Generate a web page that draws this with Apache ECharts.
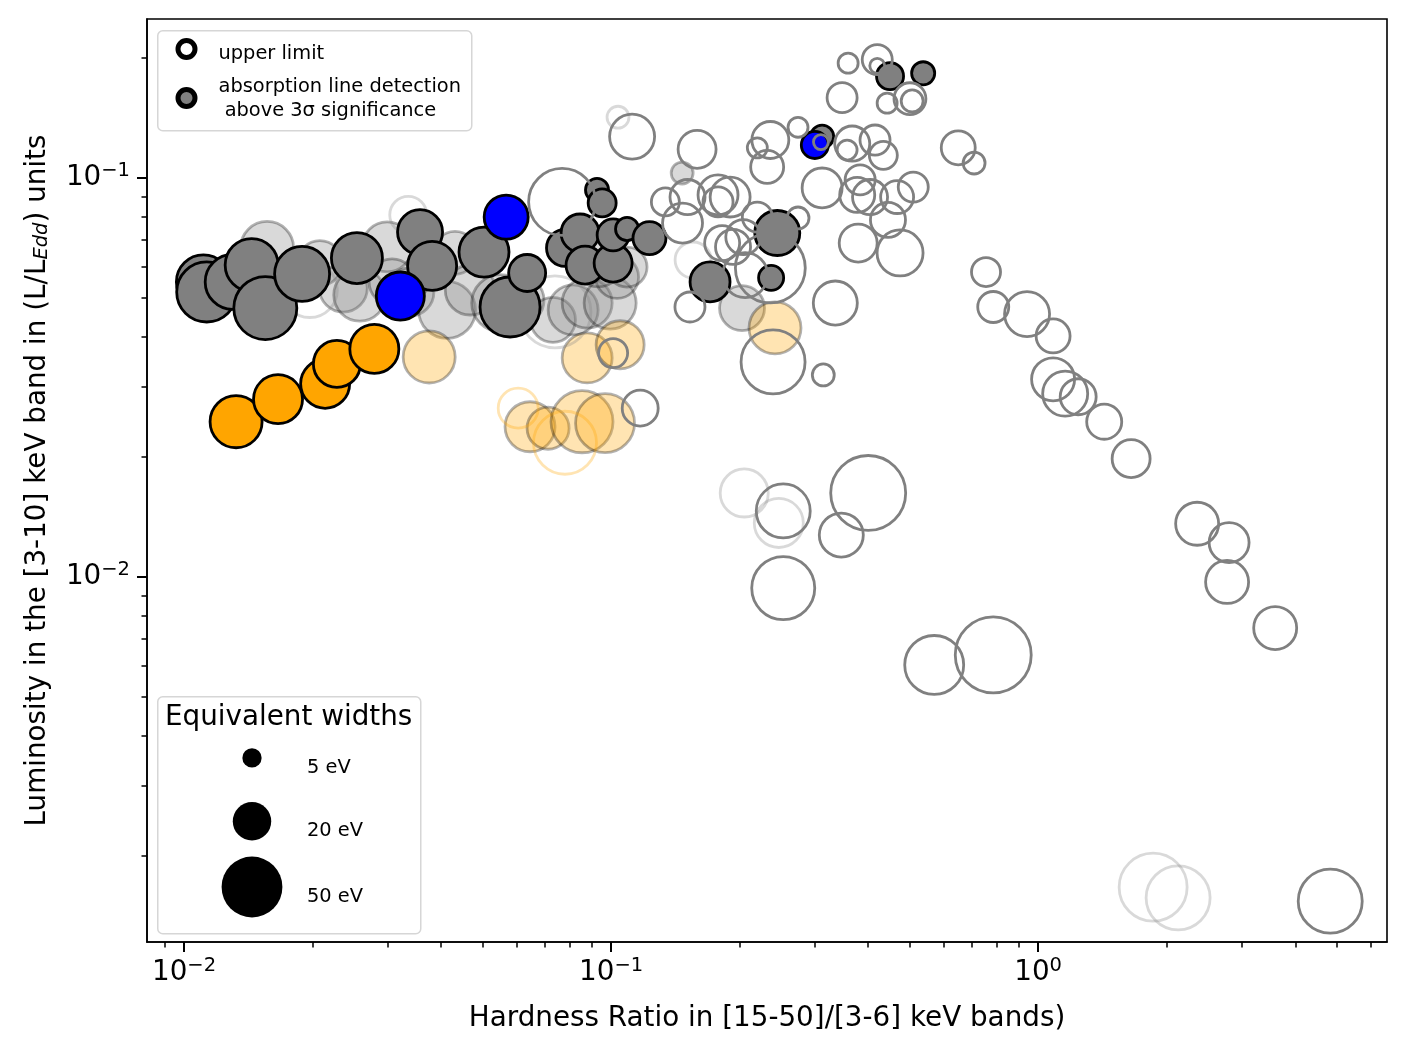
<!DOCTYPE html>
<html>
<head>
<meta charset="utf-8">
<script src="https://cdn.jsdelivr.net/npm/echarts@6.0.0/dist/echarts.min.js"></script>
<style>
  html, body { margin: 0; padding: 0; background: #fff; }
  #chart { width: 1407px; height: 1052px; }
</style>
</head>
<body>
<div id="chart"></div>
<script>
// [hardness ratio, luminosity (L/Ledd), equivalent width eV]
const detGray = [
  [0.0111, 0.0549, 39.4], [0.0113, 0.0518, 48.7], [0.0130, 0.0549, 40.9],
  [0.0144, 0.0605, 38.0], [0.0155, 0.0472, 53.7], [0.0189, 0.0575, 40.9],
  [0.0254, 0.0630, 35.2], [0.0357, 0.0732, 27.4], [0.0381, 0.0602, 32.5],
  [0.0493, 0.0641, 19.5], [0.0504, 0.0652, 33.8], [0.0580, 0.0475, 48.7],
  [0.0636, 0.0578, 18.5], [0.0780, 0.0668, 18.5], [0.0846, 0.0728, 19.5],
  [0.0869, 0.0605, 19.5], [0.1011, 0.0612, 19.5], [0.1011, 0.0720, 13.8],
  [0.109, 0.0745, 7.2], [0.123, 0.0707, 14.7], [0.0927, 0.0933, 7.2],
  [0.0953, 0.0866, 10.6], [0.1705, 0.0549, 21.6], [0.237, 0.0562, 8.5],
  [0.245, 0.0728, 27.4], [0.450, 0.180, 9.9], [0.538, 0.183, 7.2],
  [0.312, 0.127, 7.2]
];
const detGrayFaint = [
  [0.01565, 0.0668, 38.0], [0.0208, 0.0612, 27.4], [0.0236, 0.0530, 31.2],
  [0.0258, 0.0509, 36.6], [0.0299, 0.0672, 33.8], [0.0307, 0.0549, 28.6],
  [0.0338, 0.0518, 31.2], [0.0413, 0.0467, 43.9], [0.0431, 0.0649, 25.0],
  [0.0468, 0.0524, 33.8], [0.0550, 0.0486, 43.9], [0.0612, 0.0494, 31.2],
  [0.0731, 0.0441, 27.4], [0.0815, 0.0467, 33.8], [0.0879, 0.0486, 33.8],
  [0.0995, 0.0486, 36.6], [0.1033, 0.0565, 25.0], [0.109, 0.0598, 21.6],
  [0.1467, 0.1029, 6.5], [0.2026, 0.0472, 27.4], [0.0932, 0.0616, 33.8]
];
const ulGray = [
  [0.1011, 0.0364, 11.4], [0.117, 0.0265, 17.5], [0.0768, 0.0871, 60.7],
  [0.2395, 0.0346, 55.4], [0.314, 0.0321, 6.5], [0.335, 0.0486, 26.2],
  [0.253, 0.01464, 39.4], [0.346, 0.01274, 26.2], [0.400, 0.01624, 76],
  [0.253, 0.00938, 53.7], [0.571, 0.00602, 47], [0.785, 0.00638, 78],
  [4.83, 0.00154, 55.4], [0.755, 0.0581, 11.4], [0.785, 0.0475, 13],
  [0.942, 0.0456, 27.4], [1.084, 0.0402, 15.6], [1.084, 0.0313, 25],
  [1.157, 0.0288, 27.4], [1.241, 0.0283, 17.5], [1.428, 0.0245, 16.6],
  [1.651, 0.0198, 19.5], [2.357, 0.0136, 25], [2.80, 0.0122, 21.6],
  [2.77, 0.00972, 25], [3.59, 0.00745, 25], [0.650, 0.119, 15.6],
  [0.708, 0.109, 6.5], [0.359, 0.194, 5.4], [0.420, 0.198, 12.2],
  [0.420, 0.191, 3.0], [0.3475, 0.159, 12.2], [0.443, 0.154, 5.4],
  [0.501, 0.158, 13.8], [0.507, 0.156, 6.5], [0.367, 0.122, 16.6],
  [0.357, 0.1175, 5.4], [0.415, 0.1245, 12.2], [0.434, 0.114, 10.6],
  [0.236, 0.1245, 18.5], [0.220, 0.119, 5.4], [0.232, 0.1066, 14.7],
  [0.274, 0.134, 5.4], [0.312, 0.0944, 21.6], [0.159, 0.118, 19.5],
  [0.112, 0.127, 27.4], [0.383, 0.0989, 12.2], [0.377, 0.0907, 16.6],
  [0.404, 0.0896, 16.6], [0.445, 0.0785, 16.6], [0.4675, 0.0896, 14.7],
  [0.510, 0.0949, 12.2], [0.379, 0.0687, 19.5], [0.475, 0.0649, 28.6],
  [0.134, 0.0871, 10.6], [0.151, 0.0896, 16.6], [0.147, 0.0771, 21.6],
  [0.178, 0.0907, 21.6], [0.178, 0.0871, 12.2], [0.190, 0.0896, 21.6],
  [0.182, 0.0687, 16.6], [0.193, 0.0672, 16.6], [0.204, 0.0711, 16.6],
  [0.220, 0.0798, 12.2], [0.274, 0.0794, 6.5], [0.153, 0.0475, 12.2],
  [0.236, 0.0595, 66], [0.310, 0.123, 3.0], [0.206, 0.0571, 27.4]
];
const ulGrayFaint = [
  [0.205, 0.01624, 31.2], [0.247, 0.01366, 32.5], [1.859, 0.00167, 62.5],
  [2.127, 0.00157, 55.4], [0.1038, 0.142, 6.5], [0.0335, 0.0808, 18.5],
  [0.1556, 0.0623, 17.5], [0.0739, 0.0462, 70], [0.0197, 0.0524, 41]
];
const detOrange = [
  [0.01324, 0.0245, 36.6], [0.0166, 0.0279, 32.5], [0.0214, 0.0305, 32.5],
  [0.0228, 0.0342, 29.9], [0.0279, 0.0373, 32.5]
];
const detOrangeFaint = [
  [0.0375, 0.0356, 36.6], [0.0879, 0.0354, 33.8], [0.105, 0.0382, 31.2],
  [0.0646, 0.0238, 33.8], [0.0712, 0.0236, 23.9], [0.0855, 0.0245, 52],
  [0.0968, 0.0243, 47], [0.242, 0.0421, 36.6]
];
const ulOrangeFaint = [[0.0606, 0.0265, 21.6], [0.078, 0.0217, 53.7]];
const detBlue = [[0.0321, 0.0506, 31.2], [0.0568, 0.0798, 26.2], [0.300, 0.121, 9.9]];

const xMajor = [0.01, 0.1, 1];
const xMinor = [0.009, 0.02, 0.03, 0.04, 0.05, 0.06, 0.07, 0.08, 0.09,
  0.2, 0.3, 0.4, 0.5, 0.6, 0.7, 0.8, 0.9, 2, 3, 4, 5, 6];
const yMajor = [0.01, 0.1];
const yMinor = [0.002, 0.003, 0.004, 0.005, 0.006, 0.007, 0.008, 0.009,
  0.02, 0.03, 0.04, 0.05, 0.06, 0.07, 0.08, 0.09, 0.2];
const ewLegend = [5, 20, 50];
const ewLegendNames = ['5 eV', '20 eV', '50 eV'];

const FONT = 'DejaVu Sans';
const ewSize = (ew) => 8.6 * Math.sqrt(ew);

const powLabel = (v) => {
  const e = Math.round(Math.log10(v));
  return '{b|10}{s|' + (e < 0 ? '\u2212' + (-e) : e) + '}';
};
const powRich = {
  b: { fontFamily: FONT, fontSize: 27.8, color: '#000', lineHeight: 34 },
  s: { fontFamily: FONT, fontSize: 19.5, color: '#000', verticalAlign: 'top', lineHeight: 22 }
};

function pts(name, data, style) {
  return {
    type: 'scatter', name, data, symbol: 'circle',
    symbolSize: (v) => ewSize(v[2]),
    itemStyle: style, silent: true, emphasis: { disabled: true }
  };
}

// one legend block per entry; lift = how far the taller text pushes the icon down
function legendItem(name, size, cx, cy, lift, itemStyle, textPad, lineText) {
  return {
    left: cx - size / 2, top: cy - size / 2 - lift, padding: 0,
    itemWidth: size, itemHeight: size, icon: 'circle', selectedMode: false,
    data: [{ name, itemStyle }],
    formatter: () => lineText.map((t) => '{t|' + t + '}').join('\n'),
    textStyle: {
      rich: { t: { fontFamily: FONT, fontSize: 19.4, color: '#000', lineHeight: 24, padding: textPad } }
    }
  };
}

const chart = echarts.init(document.getElementById('chart'));

const axisCommon = { type: 'log', logBase: 10, splitLine: { show: false } };
const xMin = 0.00819, xMax = 6.56, yMin = 0.001217, yMax = 0.2503;

const ulName = 'upper limit';
const detName = 'absorption line detection above 3\u03c3 significance';

const legends = [
  legendItem(ulName, 17, 184, 48, 5, { color: '#fff', borderColor: '#000', borderWidth: 5, opacity: 1 },
    [10, 0, 0, 18.5], ['upper limit']),
  legendItem(detName, 17, 184, 97, 13, { color: '#808080', borderColor: '#000', borderWidth: 5, opacity: 1 },
    [2, 0, 0, 18.5], ['absorption line detection', ' above 3\u03c3 significance'])
].concat(ewLegend.map((ew, i) => {
  const s = ewSize(ew);
  return legendItem(ewLegendNames[i], s, 252, [757, 821, 887][i], [9, 0, 0][i],
    { color: '#000', borderWidth: 0, opacity: 1 },
    [20, 0, 0, 307 - (252 + s / 2 + 5)], [ewLegendNames[i]]);
}));

chart.setOption({
  animation: false,
  grid: { left: 147, right: 20, top: 19, bottom: 110, show: true, borderColor: '#000', borderWidth: 1.6 },
  xAxis: [
    Object.assign({}, axisCommon, {
      min: xMin, max: xMax, position: 'bottom',
      axisLine: { show: true, onZero: false, lineStyle: { color: '#000', width: 1.6 } },
      axisTick: { show: true, length: 10, lineStyle: { color: '#000', width: 2 }, customValues: xMajor },
      axisLabel: { customValues: xMajor, formatter: powLabel, rich: powRich, margin: 14 },
      name: 'Hardness Ratio in [15-50]/[3-6] keV bands)', nameLocation: 'middle', nameGap: 63,
      nameTextStyle: { fontFamily: FONT, fontSize: 27.8, color: '#000' }
    }),
    Object.assign({}, axisCommon, {
      min: xMin, max: xMax, position: 'bottom',
      axisLine: { show: false },
      axisTick: { show: true, length: 5.5, lineStyle: { color: '#000', width: 1.5 }, customValues: xMinor },
      axisLabel: { show: false }
    })
  ],
  yAxis: [
    Object.assign({}, axisCommon, {
      min: yMin, max: yMax, position: 'left',
      axisLine: { show: true, onZero: false, lineStyle: { color: '#000', width: 1.6 } },
      axisTick: { show: true, length: 10, lineStyle: { color: '#000', width: 2 }, customValues: yMajor },
      axisLabel: { customValues: yMajor, formatter: powLabel, rich: powRich, margin: 17 },
      name: 'Luminosity in the [3-10] keV band in (L/L{i|Edd}) units',
      nameLocation: 'middle', nameGap: 95, nameRotate: 90,
      nameTextStyle: {
        fontFamily: FONT, fontSize: 27.8, color: '#000',
        rich: { i: { fontFamily: FONT, fontSize: 19.5, fontStyle: 'italic', color: '#000', verticalAlign: 'bottom' } }
      }
    }),
    Object.assign({}, axisCommon, {
      min: yMin, max: yMax, position: 'left',
      axisLine: { show: false },
      axisTick: { show: true, length: 5.5, lineStyle: { color: '#000', width: 1.5 }, customValues: yMinor },
      axisLabel: { show: false }
    })
  ],
  legend: legends,
  graphic: [
    {
      type: 'rect', left: 157, top: 30, z: 1,
      shape: { width: 314, height: 100, r: 5 },
      style: { fill: 'rgba(255,255,255,0.8)', stroke: '#d6d6d6', lineWidth: 1.5 }
    },
    {
      type: 'rect', left: 157, top: 696, z: 1,
      shape: { width: 263, height: 237, r: 5 },
      style: { fill: 'rgba(255,255,255,0.8)', stroke: '#d6d6d6', lineWidth: 1.5 }
    },
    {
      type: 'text', left: 165, top: 704, z: 2,
      style: { text: 'Equivalent widths', font: '27.8px "DejaVu Sans"', fill: '#000' }
    }
  ],
  series: [
    pts('faint detections', detGrayFaint, { color: '#808080', borderColor: '#000', borderWidth: 2.8, opacity: 0.3 }),
    pts('faint orange detections', detOrangeFaint, { color: '#ffa500', borderColor: '#000', borderWidth: 2.8, opacity: 0.3 }),
    pts('faint orange limits', ulOrangeFaint, { color: 'rgba(0,0,0,0)', borderColor: '#ffa500', borderWidth: 2.8, opacity: 0.3 }),
    pts('faint limits', ulGrayFaint, { color: 'rgba(0,0,0,0)', borderColor: '#808080', borderWidth: 2.8, opacity: 0.3 }),
    pts('detections', detGray, { color: '#808080', borderColor: '#000', borderWidth: 2.8, opacity: 1 }),
    pts('orange detections', detOrange, { color: '#ffa500', borderColor: '#000', borderWidth: 2.8, opacity: 1 }),
    pts('blue detections', detBlue, { color: '#0000ff', borderColor: '#000', borderWidth: 2.8, opacity: 1 }),
    pts('limits', ulGray, { color: 'rgba(0,0,0,0)', borderColor: '#808080', borderWidth: 2.8, opacity: 1 }),
    { type: 'scatter', name: ulName, data: [], itemStyle: { opacity: 1 } },
    { type: 'scatter', name: detName, data: [], itemStyle: { opacity: 1 } }
  ].concat(ewLegendNames.map((n) => ({ type: 'scatter', name: n, data: [], itemStyle: { color: '#000', opacity: 1 } })))
});
</script>
</body>
</html>
